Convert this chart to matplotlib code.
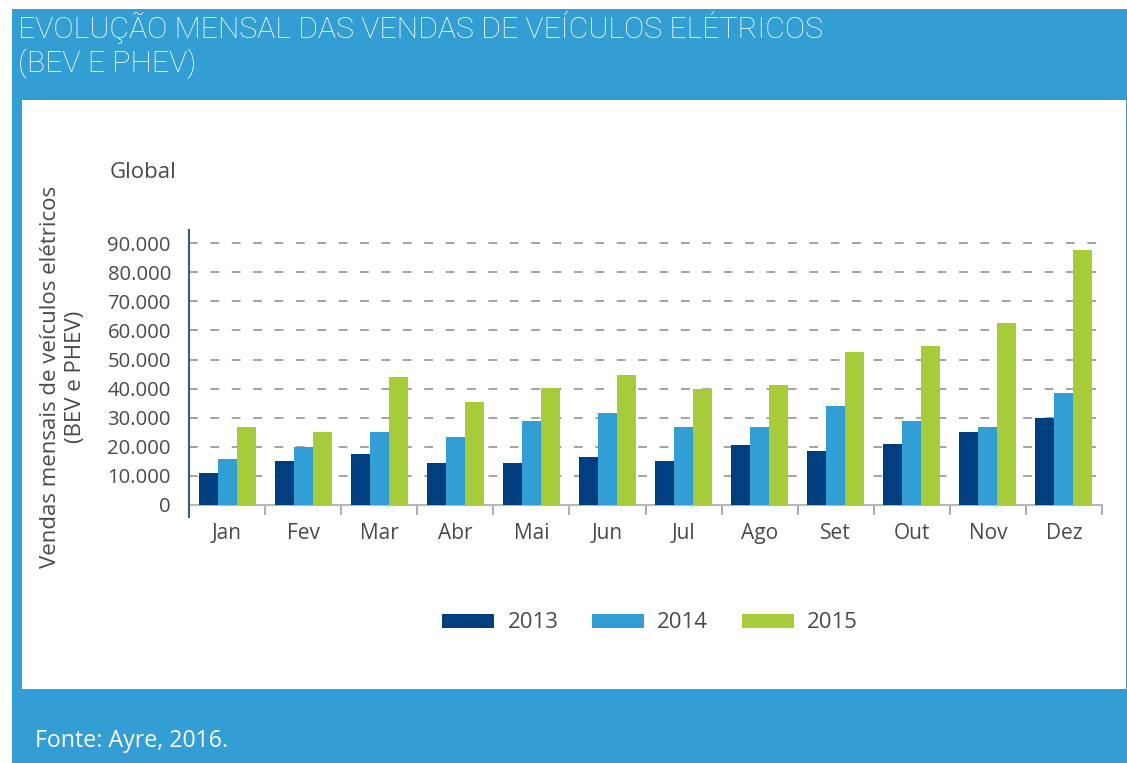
import matplotlib
matplotlib.use("Agg")
import matplotlib.pyplot as plt
from matplotlib.patches import Rectangle, Patch
from matplotlib.lines import Line2D
import numpy as np

months = ["Jan", "Fev", "Mar", "Abr", "Mai", "Jun", "Jul", "Ago", "Set", "Out", "Nov", "Dez"]
years = ["2013", "2014", "2015"]
v2013 = [11000, 14900, 17400, 14500, 14500, 16400, 15000, 20400, 18500, 20900, 24900, 30000]
v2014 = [15800, 20000, 24900, 23400, 28900, 31500, 26900, 26900, 33900, 28900, 26900, 38300]
v2015 = [26900, 24900, 43900, 35400, 40300, 44800, 39800, 41300, 52700, 54800, 62700, 87700]
yticks = [0, 10000, 20000, 30000, 40000, 50000, 60000, 70000, 80000, 90000]
ytick_labels = ["0", "10.000", "20.000", "30.000", "40.000", "50.000", "60.000", "70.000", "80.000", "90.000"]

colors = ["#003f7d", "#319fd5", "#a6cd39"]
BLUE = "#339ed4"
TXT = "#4a4a4a"

W, H = 1127, 763
fig = plt.figure(figsize=(W / 100, H / 100), dpi=100)
fig.patch.set_facecolor("white")

def px_rect(x0, y0, x1, y1, color, z=0):
    fig.add_artist(Rectangle((x0 / W, 1 - y1 / H), (x1 - x0) / W, (y1 - y0) / H,
                             transform=fig.transFigure, facecolor=color, edgecolor="none", zorder=z))

px_rect(12, 9, W, H, BLUE, 0)
px_rect(22, 100, 1126, 689, "white", 1)

plt.rcParams['font.family'] = ['Open Sans', 'DejaVu Sans']

ax_l, ax_r, ax_b, ax_t = 189, 1102, 504.7, 230
ax = fig.add_axes([ax_l / W, 1 - ax_b / H, (ax_r - ax_l) / W, (ax_b - ax_t) / H])
ax.set_zorder(2)
ax.patch.set_alpha(0)

x = np.arange(len(months))
bw = 0.25
for i, (vals, c) in enumerate(zip([v2013, v2014, v2015], colors)):
    ax.bar(x + (i - 1) * bw, vals, width=bw, color=c, zorder=3, linewidth=0)

ax.set_xlim(-0.5, len(months) - 0.5)
ax.set_ylim(0, 94600)
ax.set_yticks(yticks)
ax.set_yticklabels(ytick_labels, fontsize=14.6, color=TXT)
ax.tick_params(axis='y', length=0, pad=13)
ax.set_xticks(x)
ax.set_xticklabels(months, fontsize=15, color=TXT)
ax.tick_params(axis='x', which='major', length=0, pad=13.5)
ax.set_xticks(np.arange(-0.5, len(months), 1.0), minor=True)
ax.tick_params(axis='x', which='minor', length=7, width=1.5, color="#a9b2b8", direction='out')

for s in ["top", "right", "left"]:
    ax.spines[s].set_visible(False)
ax.spines["bottom"].set_color("#b8b8b8")
ax.spines["bottom"].set_linewidth(1.5)

for yv in yticks[1:]:
    ax.axhline(yv, color="#a3a3a3", linewidth=1.4, dashes=(4.5, 6.5), zorder=1, xmax=1.005, clip_on=False)

ax.add_line(Line2D([0, 0], [-12 / (ax_b - ax_t), 1], transform=ax.transAxes,
                   color="#3f5b6d", linewidth=1.5, clip_on=False, zorder=4))

fig.text(63 / W, 1 - 377 / H, "Vendas mensais de veículos elétricos\n(BEV e PHEV)",
         rotation=90, ha="center", va="center", multialignment="center",
         fontsize=16, color=TXT, linespacing=1.2, zorder=3)
fig.text(110 / W, 1 - 173 / H, "Global", ha="left", va="center", fontsize=16, color=TXT, zorder=3)

handles = [Patch(facecolor=c, edgecolor="none") for c in colors]
fig.legend(handles, years, loc="center", bbox_to_anchor=(650 / W, 1 - 623 / H),
           ncol=3, frameon=False, fontsize=16, handlelength=2.35, handleheight=0.6,
           handletextpad=0.6, columnspacing=1.5, borderpad=0, labelcolor=TXT)

fig.text(35 / W, 1 - 741 / H, "Fonte: Ayre, 2016.", ha="left", va="center",
         fontsize=16.7, color="white", zorder=3)

# title
t1 = fig.text(18 / W, 1 - 28 / H, "EVOLUÇÃO MENSAL DAS VENDAS DE VEÍCULOS ELÉTRICOS",
              ha="left", va="center", fontsize=21, color="white", zorder=3,
              family=["Roboto", "DejaVu Sans"], weight="light")
fig.canvas.draw()
w = t1.get_window_extent(fig.canvas.get_renderer()).width
fs = 21 * 803 / w
t1.set_fontsize(fs)
fig.text(18 / W, 1 - 64 / H, "(BEV E PHEV)", ha="left", va="center", fontsize=fs,
         color="white", zorder=3, family=["Roboto", "DejaVu Sans"], weight="light")

fig.savefig("out.png", dpi=100)
